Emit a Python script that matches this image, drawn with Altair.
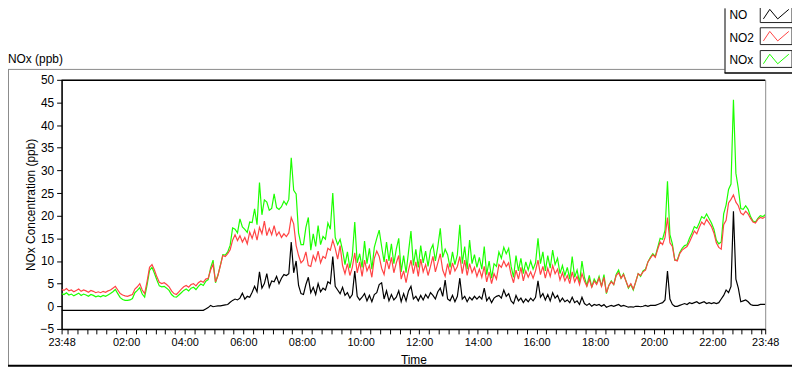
import altair as alt
import pandas as pd

# ---------------- data (5-minute readings starting 23:48) ----------------
STEP_MIN = 5

NO2 = [
    3.7, 3.5, 3.9,
    3.4, 3.6, 3.2, 3.5, 3.8, 3.3, 3.6, 3.4, 3.1, 3.5, 3.3, 3.0,
    3.2, 3.0, 3.3, 3.1, 3.4, 3.6, 4.0, 4.4, 3.6, 2.8, 2.5, 2.3,
    2.2, 2.4, 2.6, 3.8, 4.3, 5.0, 3.6, 2.8, 5.5, 8.6, 9.2, 8.0,
    6.5, 5.3, 5.0, 5.2, 4.8, 4.3, 3.4, 2.8, 2.6, 3.2, 3.8, 4.3,
    4.6, 4.2, 4.8, 5.0, 4.5, 5.2, 5.6, 5.3, 6.0, 6.2, 8.0, 9.3,
    5.4, 6.8, 9.0, 11.2, 11.0, 11.6, 12.5, 14.6, 15.8, 14.5, 15.6, 14.2,
    15.2, 13.8, 16.4, 15.0, 16.8, 14.6, 17.4, 16.0, 18.8, 15.6, 17.2, 15.8,
    17.8, 15.6, 16.4, 15.2, 16.0, 15.4, 16.2, 19.6, 18.2, 13.4, 11.2, 9.6,
    10.2, 12.0, 9.0, 8.8, 11.2, 10.0, 12.2, 9.6, 11.0, 10.6, 12.8, 12.4,
    14.6, 12.8, 10.4, 13.4, 9.0, 7.2, 9.4, 6.8, 8.6, 11.8, 7.4, 9.8,
    6.6, 10.2, 7.8, 9.0, 6.4, 10.6, 12.2, 11.0, 8.4, 7.0, 10.4, 8.2,
    10.8, 7.4, 9.6, 11.2, 6.0, 7.8, 5.2, 8.0, 10.2, 7.2, 9.8, 6.6,
    10.4, 7.6, 9.2, 6.8, 8.8, 11.0, 7.6, 9.6, 11.6, 8.0, 6.6, 9.4,
    7.0, 9.6, 7.8, 8.8, 11.0, 7.2, 10.2, 6.8, 9.4, 7.4, 8.6, 6.6,
    8.2, 6.4, 8.8, 5.4, 7.6, 5.0, 7.2, 6.0, 9.2, 8.6, 10.0, 8.8,
    9.6, 7.0, 5.2, 8.0, 6.0, 8.6, 5.6, 7.8, 6.4, 7.6, 6.2, 7.8,
    10.2, 7.0, 8.8, 6.2, 8.4, 6.6, 9.0, 7.2, 8.2, 5.8, 7.4, 5.6,
    6.8, 5.0, 7.6, 5.4, 6.6, 4.8, 7.2, 5.6, 4.4, 6.0, 4.2, 5.6,
    4.8, 6.2, 4.4, 6.4, 3.0, 4.6, 5.4, 4.8, 6.8, 7.4, 6.2, 7.0,
    5.6, 4.2, 5.0, 3.8, 5.4, 7.2, 6.8, 7.6, 8.0, 9.8, 10.6, 11.4,
    10.8, 12.6, 14.2, 13.6, 15.2, 19.6, 14.0, 13.2, 10.2, 10.0, 11.6, 12.4,
    12.8, 13.2, 14.2, 15.4, 16.6, 16.0, 17.4, 18.6, 18.0, 19.2, 18.4, 17.6,
    16.2, 14.0, 13.0, 12.6, 18.0, 19.0, 22.8, 23.6, 24.6, 23.0, 22.2, 20.6,
    20.2, 21.0, 20.4, 19.4, 18.6, 18.4, 19.2, 19.6, 19.4, 19.8,
]

NO = [
    -0.9, -0.9, -0.9,
    -0.9, -0.9, -0.9, -0.9, -0.9, -0.9, -0.9, -0.9, -0.9, -0.9, -0.9, -0.9,
    -0.9, -0.9, -0.9, -0.9, -0.9, -0.9, -0.9, -0.9, -0.9, -0.9, -0.9, -0.9,
    -0.9, -0.9, -0.9, -0.9, -0.9, -0.9, -0.9, -0.9, -0.9, -0.9, -0.9, -0.9,
    -0.9, -0.9, -0.9, -0.9, -0.9, -0.9, -0.9, -0.9, -0.9, -0.9, -0.9, -0.9,
    -0.9, -0.9, -0.9, -0.9, -0.9, -0.9, -0.9, -0.9, -0.6, -0.3, 0.2, -0.1,
    0.0, 0.1, 0.1, 0.2, 0.3, 0.4, 0.9, 1.3, 1.6, 1.4, 1.8, 2.9,
    1.6, 2.2, 2.0, 3.1, 4.4, 3.2, 7.6, 4.0, 5.0, 7.2, 4.2, 5.6,
    5.4, 6.6, 5.0, 6.2, 7.0, 6.8, 7.2, 14.2, 7.4, 10.0, 4.6, 2.8,
    2.6, 4.8, 6.4, 3.0, 4.2, 2.6, 5.0, 3.2, 4.0, 3.6, 5.4, 5.0,
    11.0, 4.4, 3.6, 2.8, 4.2, 2.4, 3.0, 1.8, 2.6, 7.8, 2.2, 1.4,
    2.0, 2.8, 1.2, 2.4, 1.0, 2.6, 3.0, 4.8, 5.2, 1.6, 3.4, 1.2,
    2.6, 1.4, 2.0, 3.4, 1.0, 2.8, 1.2, 3.4, 4.4, 1.6, 2.2, 1.2,
    2.4, 1.4, 2.6, 1.8, 3.0, 2.4, 1.6, 3.2, 4.0, 2.2, 5.8, 1.6,
    1.2, 2.4, 1.0, 2.2, 6.2, 1.6, 2.2, 1.0, 2.0, 1.4, 2.2, 1.6,
    2.2, 1.6, 4.0, 1.2, 2.0, 0.8, 1.8, 2.2, 2.4, 1.8, 3.6, 2.2,
    2.8, 1.2, 0.6, 2.4, 1.2, 1.8, 0.8, 1.6, 1.0, 1.8, 1.2, 2.0,
    5.6, 2.0, 2.8, 1.4, 2.6, 1.2, 3.0, 1.8, 2.4, 1.0, 1.8, 1.0,
    1.4, 0.8, 2.0, 0.8, 1.2, 0.4, 2.0, 0.6, 0.2, 0.6, 0.0, 0.4,
    0.2, 0.4, 0.0, 0.4, -0.2, 0.0, 0.2, 0.0, 0.2, 0.4, 0.0, 0.2,
    0.0, -0.2, -0.1, -0.2, 0.0, 0.0, -0.1, 0.0, 0.2, 0.0, 0.2, 0.2,
    0.2, 0.4, 0.6, 0.8, 1.4, 7.8, 1.6, 0.4, 0.0, 0.0, 0.2, 0.4,
    0.6, 0.4, 0.8, 0.6, 0.8, 1.0, 0.6, 0.8, 1.0, 0.6, 0.8, 0.6,
    0.8, 0.6, 0.8, 1.6, 2.4, 3.6, 3.0, 4.4, 21.0, 6.0, 4.0, 1.0,
    1.2, 1.4, 1.0, 0.4, 0.2, 0.2, 0.2, 0.4, 0.4, 0.4,
]

NOx = [
    2.8, 2.6, 3.0,
    2.5, 2.7, 2.3, 2.6, 2.9, 2.4, 2.7, 2.5, 2.2, 2.6, 2.4, 2.1,
    2.3, 2.1, 2.4, 2.2, 2.5, 2.8, 3.2, 3.7, 2.8, 1.9, 1.5, 1.3,
    1.3, 1.4, 1.7, 3.0, 3.5, 4.1, 2.7, 2.0, 4.7, 7.9, 8.6, 7.3,
    5.8, 4.5, 4.3, 4.4, 4.0, 3.5, 2.6, 2.1, 2.0, 2.5, 3.0, 3.5,
    3.8, 3.4, 4.0, 4.2, 3.7, 4.4, 4.9, 4.6, 5.5, 5.9, 8.5, 10.2,
    5.2, 6.9, 9.1, 11.4, 11.3, 12.0, 13.5, 17.3, 17.0, 16.2, 19.3, 17.5,
    17.0, 16.3, 18.6, 18.5, 21.5, 18.0, 27.3, 20.2, 23.5, 23.0, 21.2, 21.6,
    24.8, 21.8, 21.4, 22.0, 23.2, 22.4, 23.6, 32.8, 25.6, 24.8, 16.2, 13.6,
    13.6, 17.4, 19.6, 12.4, 16.0, 13.2, 17.8, 13.6, 15.4, 14.8, 18.4, 17.0,
    25.0, 15.2, 13.6, 14.8, 12.4, 9.2, 12.0, 8.4, 11.2, 18.6, 9.6, 11.6,
    8.6, 14.4, 9.4, 12.8, 8.2, 13.0, 15.0, 16.8, 13.2, 9.8, 14.2, 10.0,
    13.8, 9.4, 12.6, 15.0, 7.6, 11.2, 7.4, 12.0, 16.6, 9.0, 12.6, 8.6,
    13.4, 9.6, 12.2, 8.8, 12.4, 13.6, 10.0, 13.2, 17.2, 10.8, 12.6, 11.4,
    8.6, 12.0, 9.2, 11.4, 18.0, 9.4, 13.2, 8.2, 14.6, 9.4, 11.4, 8.6,
    10.8, 8.2, 13.2, 7.0, 10.0, 6.2, 9.4, 8.8, 12.0, 10.6, 13.0, 11.6,
    12.8, 8.8, 6.4, 11.2, 7.8, 10.6, 7.2, 9.8, 8.0, 10.0, 8.2, 9.6,
    15.0, 9.4, 12.0, 7.8, 11.2, 8.4, 12.4, 9.2, 10.6, 7.2, 9.0, 6.8,
    8.6, 6.0, 11.0, 6.4, 8.0, 5.2, 10.0, 6.4, 4.6, 6.8, 4.2, 6.0,
    5.0, 6.6, 4.4, 7.0, 2.8, 4.6, 5.6, 4.8, 7.0, 8.0, 6.2, 7.2,
    5.6, 4.0, 4.8, 3.6, 5.4, 7.2, 6.6, 7.8, 8.2, 9.8, 10.8, 11.6,
    11.0, 13.0, 15.0, 14.8, 16.8, 27.6, 15.8, 13.8, 10.2, 10.2, 11.8, 12.8,
    13.4, 13.6, 15.0, 16.2, 17.6, 17.2, 18.4, 19.8, 19.4, 20.4, 19.4, 18.4,
    17.0, 14.6, 13.8, 14.2, 20.4, 22.4, 25.8, 27.0, 45.6, 29.4, 26.0, 21.6,
    21.4, 22.2, 21.4, 19.8, 18.8, 18.6, 19.4, 20.0, 19.8, 20.2,
]

SERIES = ["NO", "NO2", "NOx"]
COLORS = {"NO": "#000000", "NO2": "#ff4444", "NOx": "#1cff00"}

# x tick labels (minutes after 23:48) and their texts
TICK_LABEL_POS = [0, 132, 252, 372, 492, 612, 732, 852, 972, 1092, 1212, 1332, 1440]
TICK_LABEL_TXT = ["23:48", "02:00", "04:00", "06:00", "08:00", "10:00", "12:00",
                  "14:00", "16:00", "18:00", "20:00", "22:00", "23:48"]
Y_TICKS = [-5, 0, 5, 10, 15, 20, 25, 30, 35, 40, 45, 50]

n = min(len(NO), len(NO2), len(NOx))
df = pd.DataFrame({
    "t": [i * STEP_MIN for i in range(n)],
    "NO": NO[:n], "NO2": NO2[:n], "NOx": NOx[:n],
})

# minor ticks every 20 clock-minutes, plus the end points
tick_values = sorted(set([0, 1440] + list(range(12, 1440, 20)) + TICK_LABEL_POS))
label_expr = " : ".join(
    f"datum.value == {p} ? '{s}'" for p, s in zip(TICK_LABEL_POS, TICK_LABEL_TXT)
) + " : ''"

W, H = 709, 251
FONT = "Liberation Sans"

x_enc = alt.X(
    "t:Q",
    scale=alt.Scale(domain=[0, 1440], nice=False, zero=False),
    axis=alt.Axis(
        values=tick_values, labelExpr=label_expr, title="Time",
        tickSize=5, labelPadding=3, labelOverlap=False, labelFlush=False,
        labelBound=False, grid=False, labelFontSize=11,
        titleX=W / 2, titleY=35, titleBaseline="alphabetic", titleAlign="center",
    ),
)


def y_enc(field):
    return alt.Y(
        f"{field}:Q",
        scale=alt.Scale(domain=[-5, 50], nice=False, zero=False),
        axis=alt.Axis(
            values=Y_TICKS, title="NOx Concentration (ppb)", tickSize=5,
            labelPadding=3, grid=False, labelFontSize=12,
            titleX=-27, titleY=H / 2, titleAngle=-90,
            titleBaseline="alphabetic", titleAlign="center",
        ),
    )


layers = []
for s in ["NOx", "NO2", "NO"]:
    layers.append(
        alt.Chart(df).mark_line(color=COLORS[s], strokeWidth=1.2, clip=True)
        .encode(x=x_enc, y=y_enc(s))
    )

one = pd.DataFrame({"k": [0]})


def hrule(x1, x2, y, color, w=1.0):
    return alt.Chart(one).mark_rule(color=color, strokeWidth=w).encode(
        x=alt.value(x1), x2=alt.value(x2), y=alt.value(y))


def vrule(x, y1, y2, color, w=1.0):
    return alt.Chart(one).mark_rule(color=color, strokeWidth=w).encode(
        x=alt.value(x), y=alt.value(y1), y2=alt.value(y2))


# frame decorations
layers += [
    hrule(0, W, 0.5, "#000000", 1.5),            # top edge of plot area
    hrule(-54, 668, -10.5, "#8a8a8a", 1),         # outer frame top
    vrule(-53.5, -10.5, 288, "#8a8a8a", 1),       # outer frame left
    hrule(-54, 736, 288, "#000000", 2),          # outer frame bottom
    vrule(668.5, -72, -7, "#000000", 1),          # legend box left
    hrule(668, 736, -7, "#000000", 1.5),          # legend box bottom
]

# panel title
layers.append(
    alt.Chart(one).mark_text(text="NOx (ppb)", align="left", baseline="alphabetic",
                             fontSize=12, font=FONT, color="#000000")
    .encode(x=alt.value(-54), y=alt.value(-16.5))
)

# legend
BOX_PATH = "M-1,-0.53 L1,-0.53 L1,0.53 L-1,0.53 Z"
ZIG_PATH = "M-0.8,0.3 L-0.4,-0.3 L0.1,0.3 L0.8,-0.3"
LEG_Y = {"NO": -66.2, "NO2": -44, "NOx": -21}
LEG_TY = {"NO": -65, "NO2": -42.5, "NOx": -19.8}
for s in SERIES:
    layers.append(
        alt.Chart(one).mark_text(text=s, align="left", baseline="middle",
                                 fontSize=12, font=FONT, color="#000000")
        .encode(x=alt.value(673), y=alt.value(LEG_TY[s]))
    )
    layers.append(
        alt.Chart(one).mark_point(shape=BOX_PATH, size=1024, filled=False,
                                  color="#222222", strokeWidth=1, opacity=1)
        .encode(x=alt.value(720), y=alt.value(LEG_Y[s]))
    )
    layers.append(
        alt.Chart(one).mark_point(shape=ZIG_PATH, size=1024, filled=False,
                                  color=COLORS[s], strokeWidth=1, opacity=1)
        .encode(x=alt.value(720), y=alt.value(LEG_Y[s]))
    )

chart = (
    alt.layer(*layers)
    .properties(
        width=W, height=H,
        padding={"left": 54, "top": 71, "right": 27, "bottom": 39},
        autosize=alt.AutoSizeParams(type="none"),
        background="white",
    )
    .configure_view(stroke="#8c8c8c", strokeWidth=1)
    .configure_axis(
        labelFont=FONT, titleFont=FONT, labelColor="#000000", titleColor="#000000",
        titleFontWeight="normal", titleFontSize=12, domainColor="#000000",
        tickColor="#000000", domainWidth=1.5, tickWidth=1,
    )
)

chart.save("out.html", embed_options={"renderer": "svg", "actions": False})
